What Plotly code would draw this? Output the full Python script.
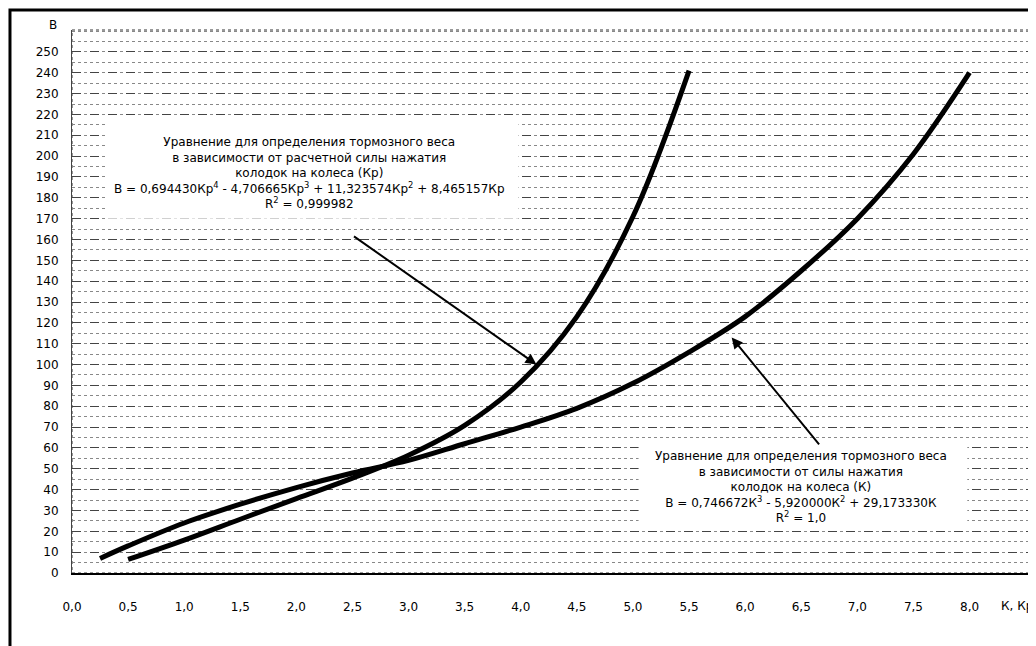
import plotly.graph_objects as go

# Data
k_x = [0.25, 0.5, 1.0, 1.5, 2.0, 2.5, 3.0, 3.5, 4.0, 4.5, 5.0, 5.5, 6.0, 6.5, 7.0, 7.5, 8.0]
k_b = [7, 13, 24, 33, 41, 48, 54, 62, 70, 79, 91, 106, 123, 145, 170, 201, 240]

kp_x = [0.5, 1.0, 1.5, 2.0, 2.5, 3.0, 3.5, 4.0, 4.5, 5.0, 5.5]
kp_b = [6.5, 15.8, 25.8, 35.7, 45.5, 56.5, 70.8, 91.6, 123, 171, 241]

x_ticks = [0.0, 0.5, 1.0, 1.5, 2.0, 2.5, 3.0, 3.5, 4.0, 4.5, 5.0, 5.5, 6.0, 6.5, 7.0, 7.5, 8.0]
x_tick_labels = [f"{v:.1f}".replace(".", ",") for v in x_ticks]
y_ticks = list(range(0, 251, 10))

box1_lines = [
    "Уравнение для определения тормозного веса",
    "в зависимости от расчетной силы нажатия",
    "колодок на колеса (Кр)",
    "В = 0,694430Кр<sup>4</sup> - 4,706665Кр<sup>3</sup> + 11,323574Кр<sup>2</sup> + 8,465157Кр",
    "R<sup>2</sup> = 0,999982",
]
box2_lines = [
    "Уравнение для определения тормозного веса",
    "в зависимости от силы нажатия",
    "колодок на колеса (К)",
    "В = 0,746672К<sup>3</sup> - 5,920000К<sup>2</sup> + 29,173330К",
    "R<sup>2</sup> = 1,0",
]

FONT = "DejaVu Sans"

fig = go.Figure()
fig.add_trace(go.Scatter(x=k_x, y=k_b, mode="lines", line=dict(color="black", width=5, shape="spline"),
                         name="К", showlegend=False))
fig.add_trace(go.Scatter(x=kp_x, y=kp_b, mode="lines", line=dict(color="black", width=5, shape="spline"),
                         name="Кр", showlegend=False))

# page body has an 8px margin, so the figure is sized/offset to compensate
fig.update_layout(
    width=1028, height=638,
    margin=dict(l=64, r=7, t=22, b=73),
    paper_bgcolor="white", plot_bgcolor="white",
    font=dict(family=FONT, size=12, color="black"),
    xaxis=dict(range=[0, 8.53], tickmode="array", tickvals=x_ticks, ticktext=x_tick_labels,
               showgrid=False, zeroline=False, showline=True, linecolor="black", linewidth=2,
               ticks="", ticklabelstandoff=22, automargin=False,
               tickfont=dict(size=12, family=FONT)),
    yaxis=dict(range=[0, 260.5], tickmode="array", tickvals=y_ticks,
               showgrid=True, gridcolor="#444", griddash="dash", gridwidth=1,
               minor=dict(dtick=5, showgrid=True, gridcolor="#888", griddash="dot", gridwidth=1),
               zeroline=False, showline=True, linecolor="#444", linewidth=1,
               ticks="", ticklabelstandoff=10, automargin=False,
               tickfont=dict(size=12, family=FONT)),
)

# plot area border (dotted)
fig.add_shape(type="rect", xref="paper", yref="paper", x0=0, y0=0, x1=1, y1=1,
              line=dict(color="#333", width=1, dash="dot"), layer="below")

# outer thick frame
fig.add_shape(type="rect", xref="paper", yref="paper", x0=-0.0648, y0=-0.15, x1=1.02, y1=1.037,
              line=dict(color="black", width=3))

# white backgrounds for text boxes (data coords)
fig.add_shape(type="rect", xref="x", yref="y", x0=0.3, x1=3.98, y0=170, y1=216,
              fillcolor="white", line=dict(width=0), layer="above")
fig.add_shape(type="rect", xref="x", yref="y", x0=5.05, x1=7.98, y0=21, y1=62,
              fillcolor="white", line=dict(width=0), layer="above")

fig.add_annotation(xref="x", yref="y", x=2.12, y=192, text="<br>".join(box1_lines),
                   showarrow=False, align="center", font=dict(size=12, family=FONT),
                   xanchor="center", yanchor="middle")
fig.add_annotation(xref="x", yref="y", x=6.5, y=41.5, text="<br>".join(box2_lines),
                   showarrow=False, align="center", font=dict(size=12, family=FONT),
                   xanchor="center", yanchor="middle")

# arrows
fig.add_annotation(xref="x", yref="y", axref="x", ayref="y", x=4.14, y=100, ax=2.5, ay=162,
                   text="", showarrow=True, arrowhead=2, arrowsize=1.1, arrowwidth=2, arrowcolor="black")
fig.add_annotation(xref="x", yref="y", axref="x", ayref="y", x=5.88, y=113, ax=6.67, ay=61,
                   text="", showarrow=True, arrowhead=2, arrowsize=1.1, arrowwidth=2, arrowcolor="black")

# axis titles
fig.add_annotation(xref="paper", yref="paper", x=-0.02, y=1.009, text="В", showarrow=False,
                   font=dict(size=12, family=FONT), xanchor="center", yanchor="middle")
fig.add_annotation(xref="paper", yref="paper", x=1.006, y=-0.045, text="К, Кр", showarrow=False,
                   font=dict(size=12, family=FONT), xanchor="right", yanchor="top")

fig.write_html("out.html")
